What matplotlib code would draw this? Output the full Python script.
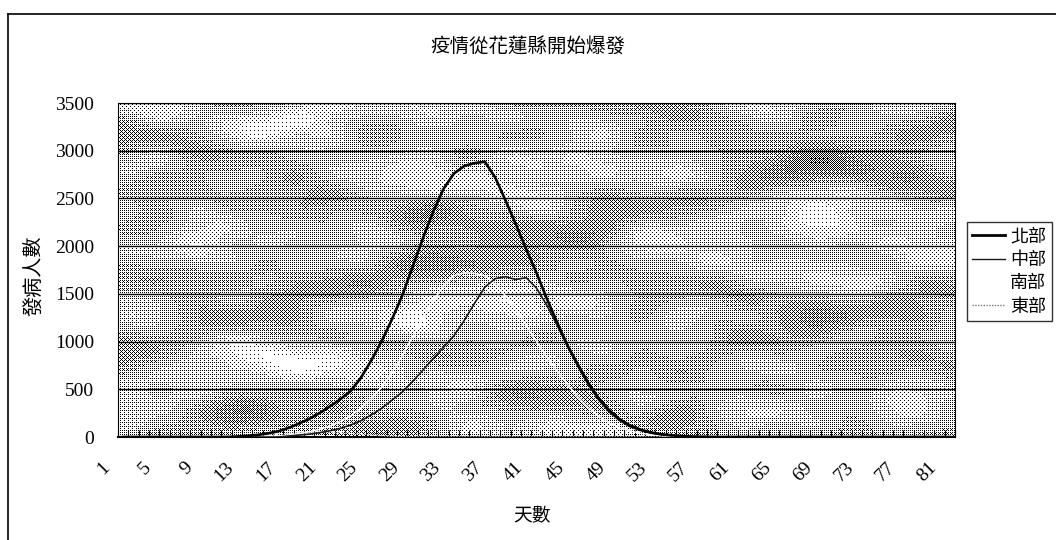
import numpy as np
import matplotlib
matplotlib.use("Agg")
import matplotlib.pyplot as plt
import matplotlib.transforms as mtransforms
from matplotlib.lines import Line2D

plt.rcParams["font.family"] = ["Noto Sans CJK TC", "DejaVu Sans"]

# ---- data -------------------------------------------------------------
days = list(range(1, 82))
series_names = ["北部", "中部", "南部", "東部"]

north = [0] * 11 + [5, 12, 22, 38, 60, 95, 140, 190, 250, 320, 395, 480, 620,
                    800, 1000, 1230, 1480, 1780, 2080, 2360, 2600, 2760, 2840,
                    2870, 2885, 2720, 2480, 2230, 1970, 1720, 1450, 1200, 960,
                    760, 570, 410, 285, 190, 125, 80, 50, 30, 18, 10, 5, 3, 1] + [0] * 23

central = [0] * 16 + [10, 20, 30, 45, 65, 90, 125, 170, 230, 300, 385, 470,
                      580, 700, 820, 940, 1060, 1220, 1400, 1570, 1660, 1680,
                      1650, 1670, 1560, 1380, 1170, 950, 740, 550, 390, 265,
                      175, 110, 70, 42, 25, 14, 8, 4, 2] + [0] * 24

south = [0] * 14 + [5, 10, 20, 35, 55, 80, 115, 160, 220, 300, 400, 520, 670,
                    850, 1050, 1250, 1430, 1580, 1690, 1720, 1715, 1690, 1600,
                    1480, 1330, 1170, 1000, 840, 690, 550, 420, 310, 220, 150,
                    100, 65, 40, 25, 15, 8, 4, 2] + [0] * 25

east = [0] * 11 + [5, 10, 15, 22, 30, 38, 45, 50, 52, 50, 45, 38, 30, 22, 15,
                   10, 6, 3, 1] + [0] * 51

y_ticks = [0, 500, 1000, 1500, 2000, 2500, 3000, 3500]
x_tick_days = list(range(1, 82, 4))

# ---- figure -----------------------------------------------------------
W, H = 1056, 540
fig = plt.figure(figsize=(W / 100, H / 100), dpi=100)
fig.patch.set_facecolor("white")

# outer chart frame (left and top edges)
fig.add_artist(Line2D([8 / W, 8 / W], [0, 1 - 14 / H], transform=fig.transFigure,
                      color="black", lw=1.2))
fig.add_artist(Line2D([8 / W, 1], [1 - 14 / H, 1 - 14 / H], transform=fig.transFigure,
                      color="black", lw=1.2))

x0, x1, y0, y1 = 118, 955, 103, 437
ax = fig.add_axes([x0 / W, 1 - y1 / H, (x1 - x0) / W, (y1 - y0) / H])

# mottled, halftoned plot-area background
pw, ph = x1 - x0, y1 - y0
yy, xx = np.mgrid[0:ph, 0:pw].astype(float)
field = np.zeros_like(xx)
comps = [(0.011, 0.047, 0.00, 1.0), (0.023, 0.083, 1.30, 0.8),
         (0.007, 0.031, 2.70, 0.9), (0.031, 0.121, 4.10, 0.5),
         (0.017, 0.061, 5.20, 0.7), (0.041, 0.019, 0.60, 0.4),
         (0.005, 0.097, 3.30, 0.6), (0.053, 0.151, 1.90, 0.3),
         (0.071, 0.037, 2.20, 0.35), (0.091, 0.173, 0.90, 0.25)]
for fx, fy, ph0, amp in comps:
    field += amp * np.sin(fx * xx + ph0) * np.cos(fy * yy + 0.7 * ph0)
field += 0.5 * np.sin(0.013 * xx + 0.09 * yy) * np.sin(0.029 * xx - 0.05 * yy + 1.1)
field = (field - field.min()) / (field.max() - field.min())
gray = 0.45 + 0.55 * field
bayer = np.array([[0, 8, 2, 10], [12, 4, 14, 6], [3, 11, 1, 9], [15, 7, 13, 5]]) / 16 + 1 / 32
thr = np.tile(bayer, (ph // 4 + 1, pw // 4 + 1))[:ph, :pw]
img = (gray > thr).astype(float)
ax.imshow(img, cmap="gray", vmin=0, vmax=1, extent=(0.5, 81.5, 0, 3500),
          aspect="auto", interpolation="nearest", zorder=0)

ax.set_xlim(0.5, 81.5)
ax.set_ylim(0, 3500)

# horizontal gridlines
for v in y_ticks[1:]:
    ax.axhline(v, color="black", lw=1.0, zorder=1)

# series
ax.plot(days, north, color="black", lw=1.9, zorder=5, label=series_names[0])
ax.plot(days, central, color="#1a1a1a", lw=1.2, zorder=4, label=series_names[1])
ax.plot(days, south, color="white", lw=1.1, zorder=3, label=series_names[2])
ax.plot(days, east, color="#e8e8e8", lw=1.0, ls=(0, (1, 1)), zorder=3,
        label=series_names[3])

# axes styling
for side in ["top", "right", "left"]:
    ax.spines[side].set_linewidth(0.8)
ax.spines["bottom"].set_linewidth(1.5)

ax.set_yticks(y_ticks)
ax.set_yticklabels([str(v) for v in y_ticks], family="Liberation Serif", fontsize=14)
ax.tick_params(axis="y", length=0, pad=17)

ax.set_xticks(np.arange(0.5, 82, 1), minor=True)
ax.set_xticks(x_tick_days)
ax.set_xticklabels([str(d) for d in x_tick_days], family="Liberation Serif",
                   fontsize=14, rotation=45, ha="right", va="top",
                   rotation_mode="anchor")
ax.tick_params(axis="x", which="major", length=0, pad=16)
ax.tick_params(axis="x", which="minor", length=5, direction="in", width=0.8)
shift = mtransforms.ScaledTranslation(-0.22, 0, fig.dpi_scale_trans)
for lab in ax.get_xticklabels():
    lab.set_transform(lab.get_transform() + shift)

fig.text(528 / W, 1 - 47 / H, "疫情從花蓮縣開始爆發", ha="center", va="center", fontsize=14)
fig.text(35 / W, 1 - 276 / H, "發病人數", ha="center", va="center", rotation=90, fontsize=14.5)
fig.text(532 / W, 1 - 516 / H, "天數", ha="center", va="center", fontsize=13.5)

handles = [Line2D([], [], color="black", lw=2.0),
           Line2D([], [], color="#1a1a1a", lw=1.0),
           Line2D([], [], color="white", lw=1.0),
           Line2D([], [], color="#777777", lw=1.0, ls=(0, (1, 1)))]
leg = fig.legend(handles, series_names, loc="upper left",
                 bbox_to_anchor=(967 / W, 1 - 222 / H), frameon=True, fancybox=False,
                 edgecolor="black", fontsize=13, handlelength=1.8, handletextpad=0.3,
                 borderpad=0.3, labelspacing=0.3, borderaxespad=0)
leg.get_frame().set_linewidth(1.0)

fig.savefig("out.png", dpi=100)
